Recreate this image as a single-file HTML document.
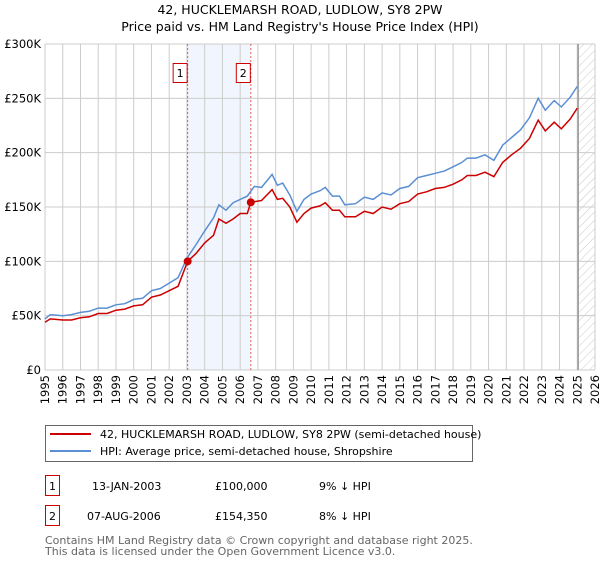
<!DOCTYPE html>
<html><head><meta charset="utf-8"><style>
body{margin:0;background:#fff;width:600px;height:560px;overflow:hidden}
svg text{font-family:"DejaVu Sans","Liberation Sans",sans-serif;fill:#000}
</style></head><body>
<svg id="c" width="600" height="560" xmlns="http://www.w3.org/2000/svg">
<defs><pattern id="hatch" width="6" height="6" patternUnits="userSpaceOnUse" patternTransform="rotate(45)"><line x1="0" y1="0" x2="0" y2="6" stroke="#bbb" stroke-width="0.8"/></pattern></defs>
<text x="300" y="14" font-size="12.5" text-anchor="middle">42, HUCKLEMARSH ROAD, LUDLOW, SY8 2PW</text>
<text x="300" y="31" font-size="12.5" text-anchor="middle">Price paid vs. HM Land Registry's House Price Index (HPI)</text>
<g id="grid"></g><g id="marks"></g><g id="axes"></g>
<rect x="45.5" y="425.5" width="427" height="36" fill="#fff" stroke="#666"/>
<line x1="50" y1="434" x2="91" y2="434" stroke="#cc0000" stroke-width="2"/>
<text x="100" y="438" font-size="11">42, HUCKLEMARSH ROAD, LUDLOW, SY8 2PW (semi-detached house)</text>
<line x1="50" y1="451" x2="91" y2="451" stroke="#5b8fd4" stroke-width="2"/>
<text x="100" y="455" font-size="11">HPI: Average price, semi-detached house, Shropshire</text>
<rect x="45.5" y="475.5" width="14" height="20" fill="#fff" stroke="#cc0000"/>
<text x="52.5" y="490" font-size="11" text-anchor="middle">1</text>
<text x="92" y="490" font-size="11">13-JAN-2003</text>
<text x="215" y="490" font-size="11">£100,000</text>
<text x="319" y="490" font-size="11">9% ↓ HPI</text>
<rect x="45.5" y="505.5" width="14" height="20" fill="#fff" stroke="#cc0000"/>
<text x="52.5" y="520" font-size="11" text-anchor="middle">2</text>
<text x="87" y="520" font-size="11">07-AUG-2006</text>
<text x="215" y="520" font-size="11">£154,350</text>
<text x="319" y="520" font-size="11">8% ↓ HPI</text>
<text x="45" y="544" font-size="11" style="fill:#666">Contains HM Land Registry data © Crown copyright and database right 2025.</text>
<text x="45" y="555" font-size="11" style="fill:#666">This data is licensed under the Open Government Licence v3.0.</text>
</svg>
<script>
const hpiYears=[1995.0,1995.3,1996,1996.5,1997,1997.5,1998,1998.5,1999,1999.5,2000,2000.5,2001,2001.5,2002,2002.5,2003,2003.5,2004,2004.5,2004.8,2005.2,2005.6,2006,2006.4,2006.8,2007.2,2007.8,2008.1,2008.4,2008.8,2009.2,2009.6,2010,2010.5,2010.8,2011.2,2011.6,2011.9,2012.5,2013,2013.5,2014,2014.5,2015,2015.5,2016,2016.5,2017,2017.5,2018,2018.5,2018.8,2019.3,2019.8,2020.3,2020.8,2021.3,2021.8,2022.3,2022.8,2023.2,2023.7,2024.1,2024.6,2025.0];
const hpiValues=[47,51,50,51,53,54,57,57,60,61,65,66,73,75,80,85,103,115,128,140,152,147,154,157,160,169,168,180,170,172,161,146,157,162,165,168,160,160,152,153,159,157,163,161,167,169,177,179,181,183,187,191,195,195,198,193,207,214,221,232,250,239,248,242,251,261];
const priceYears=[1995.0,1995.3,1996,1996.5,1997,1997.5,1998,1998.5,1999,1999.5,2000,2000.5,2001,2001.5,2002,2002.5,2003.04,2003.5,2004,2004.5,2004.8,2005.2,2005.6,2006,2006.4,2006.6,2007.2,2007.8,2008.1,2008.4,2008.8,2009.2,2009.6,2010,2010.5,2010.8,2011.2,2011.6,2011.9,2012.5,2013,2013.5,2014,2014.5,2015,2015.5,2016,2016.5,2017,2017.5,2018,2018.5,2018.8,2019.3,2019.8,2020.3,2020.8,2021.3,2021.8,2022.3,2022.8,2023.2,2023.7,2024.1,2024.6,2025.0];
const priceValues=[44,47,46,46,48,49,52,52,55,56,59,60,67,69,73,77,100,107,117,124,139,135,139,144,144,154.35,156,166,157,158,150,136,144,149,151,154,147,147,141,141,146,144,150,148,153,155,162,164,167,168,171,175,179,179,182,178,191,198,204,213,230,220,228,222,231,241];
const saleYears=[2003.04,2006.6];
const saleValues=[100,154.35];
const saleLabels=["1","2"];
const yTicks=[0,50,100,150,200,250,300];
const yTickLabels=["£0","£50K","£100K","£150K","£200K","£250K","£300K"];
const xTicks=[1995,1996,1997,1998,1999,2000,2001,2002,2003,2004,2005,2006,2007,2008,2009,2010,2011,2012,2013,2014,2015,2016,2017,2018,2019,2020,2021,2022,2023,2024,2025,2026];
const dataEnd=2025.05;

const X0=45,X1=595,Y0=370,Y1=44;
const x=v=>X0+(v-1995)/(2026-1995)*(X1-X0);
const y=v=>Y0-v/300*(Y0-Y1);
const NS="http://www.w3.org/2000/svg";
function mk(tag,attrs,parent){const e=document.createElementNS(NS,tag);for(const k in attrs)e.setAttribute(k,attrs[k]);parent.appendChild(e);return e;}
const grid=document.getElementById('grid'),marks=document.getElementById('marks'),axes=document.getElementById('axes');
// shaded region between sales
let r=mk('rect',{x:x(saleYears[0]),y:Y1,width:x(saleYears[1])-x(saleYears[0]),height:Y0-Y1,fill:'#eef3fc',opacity:0.8},grid);


// hatch future
let h=mk('rect',{x:x(dataEnd),y:Y1,width:X1-x(dataEnd),height:Y0-Y1,fill:'url(#hatch)'},grid);


xTicks.forEach(t=>{let l=mk('line',{x1:x(t),x2:x(t),y1:Y1,y2:Y0,stroke:'#ccc'},grid);


let tx=mk('text',{transform:`translate(${x(t)+4},${Y0+5}) rotate(-90)`,'font-size':11.5,'text-anchor':'end'},axes);tx.textContent=t;

});
yTicks.forEach((t,i)=>{let l=mk('line',{x1:X0,x2:X1,y1:y(t),y2:y(t),stroke:'#ccc'},grid);


let tx=mk('text',{x:X0-4,y:y(t)+4,'font-size':11.5,'text-anchor':'end'},axes);tx.textContent=yTickLabels[i];

});
let de=mk('line',{x1:x(dataEnd),x2:x(dataEnd),y1:Y1,y2:Y0,stroke:'#999','stroke-width':1.5},grid);


saleYears.forEach((s,i)=>{let l=mk('line',{x1:x(s),x2:x(s),y1:Y1,y2:Y0,stroke:'#e06060','stroke-dasharray':'2,2'},grid);


let b=mk('rect',{x:x(s)-14.5,y:63.5,width:14,height:19,fill:'#fff',stroke:'#cc0000'},grid);


let t=mk('text',{x:x(s)-7.5,y:77,'font-size':11,'text-anchor':'middle'},grid);t.textContent=saleLabels[i];

});
function path(xs,vs){return xs.map((v,i)=>(i?'L':'M')+x(v).toFixed(1)+','+y(vs[i]).toFixed(1)).join('');}
let hp=mk('path',{d:path(hpiYears,hpiValues),fill:'none',stroke:'#5b8fd4','stroke-width':1.5},marks);


let pp=mk('path',{d:path(priceYears,priceValues),fill:'none',stroke:'#cc0000','stroke-width':1.5},marks);


saleYears.forEach((s,i)=>{let c=mk('circle',{cx:x(s),cy:y(saleValues[i]),r:4,fill:'#cc0000'},marks);

});
</script>
</body></html>
